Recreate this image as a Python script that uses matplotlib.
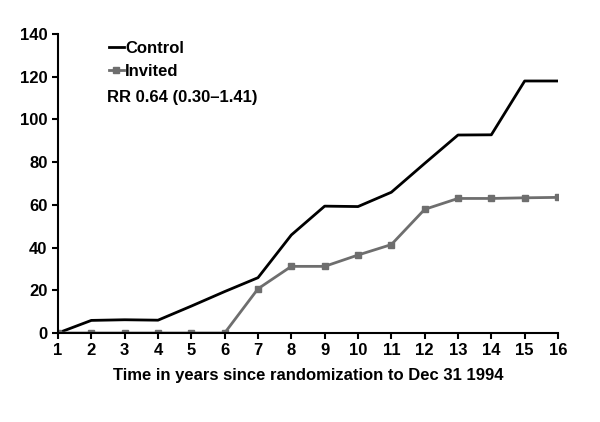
import numpy as np
import matplotlib.pyplot as plt

plt.rcParams['font.family'] = ['Liberation Sans', 'DejaVu Sans']
plt.rcParams['font.weight'] = 'bold'

years = list(range(1, 17))
control = [0, 5.9, 6.2, 6.0, 12.6, 19.4, 25.9, 45.9, 59.4, 59.2, 65.9, 79.4, 92.7, 92.8, 118, 118]
invited = [0, 0, 0, 0, 0, 0, 20.7, 31.2, 31.2, 36.5, 41.4, 57.9, 63.0, 63.0, 63.3, 63.5]

fig = plt.figure(figsize=(6, 4.22), dpi=100)
ax = fig.add_axes([58 / 600, 89 / 422, 500 / 600, 299 / 422])

ax.plot(years, control, color='black', lw=2, label='Control')
ax.plot(years, invited, color='#6e6e6e', lw=2, marker='s', ms=4, label='Invited')

ax.set_xlim(1, 16)
ax.set_ylim(0, 140)
ax.set_xticks(years)
ax.set_yticks(range(0, 141, 20))
ax.spines['top'].set_visible(False)
ax.spines['right'].set_visible(False)
ax.spines['left'].set_linewidth(1.5)
ax.spines['bottom'].set_linewidth(1.5)
ax.spines['left'].set_clip_on(False)
ax.tick_params(direction='out', width=1.5, length=4, labelsize=12)
ax.set_xlabel('Time in years since randomization to Dec 31 1994', fontsize=12, fontweight='bold', labelpad=7)
for lab in ax.get_xticklabels() + ax.get_yticklabels():
    lab.set_fontweight('bold')

leg = ax.legend(loc='upper left', bbox_to_anchor=(0.088, 0.998), frameon=False, fontsize=12,
                handlelength=0.9, handletextpad=0.1, labelspacing=0.45, borderaxespad=0)
for t in leg.get_texts():
    t.set_fontweight('bold')
ax.text(0.098, 0.786, 'RR 0.64 (0.30\u20131.41)', transform=ax.transAxes, fontsize=12,
        fontweight='bold', va='center')

fig.savefig('out.png', dpi=100)
